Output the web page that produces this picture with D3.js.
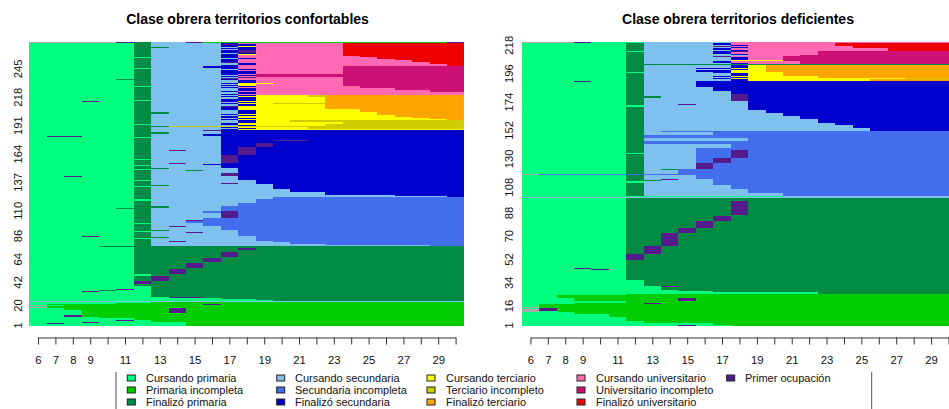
<!DOCTYPE html>
<html>
<head>
<meta charset="utf-8">
<script src="https://cdn.jsdelivr.net/npm/d3@7"></script>
<style>
  html, body { margin: 0; padding: 0; background: #fff; }
  svg { display: block; font-family: "Liberation Sans", Arial, Helvetica, sans-serif; }
</style>
</head>
<body>
<svg id="chart" width="949" height="409"></svg>
<script>
// ---- ages (one column per year) and the labels printed under the axis ----
const ages = d3.range(6, 31);
const ageLabels = [6, 7, 8, 9, 11, 13, 15, 17, 19, 21, 23, 25, 27, 29];

// ---- state alphabet ----
const stateCodes = ["a", "b", "c", "d", "e", "f", "g", "h", "i", "j", "k", "l", "m", "-"];
const stateNames = [
  "Cursando primaria", "Primaria incompleta", "Finalizó primaria",
  "Cursando secundaria", "Secundaria incompleta", "Finalizó secundaria",
  "Cursando terciario", "Terciario incompleto", "Finalizó terciario",
  "Cursando universitario", "Universitario incompleto", "Finalizó universitario",
  "Primer ocupación", "Sin dato"
];
const stateColors = [
  "#00FF7F", "#00CD00", "#008B45",
  "#7EC0EE", "#436EEE", "#0000CD",
  "#FFFF00", "#CDCD00", "#FFA500",
  "#FF69B4", "#CD1076", "#EE0000",
  "#551A8B", "#AAAAAA"
];

const panelTitles = ["Clase obrera territorios confortables", "Clase obrera territorios deficientes"];
const confortablesTicks = [1, 20, 42, 64, 86, 110, 137, 164, 191, 218, 245];
const deficientesTicks = [1, 16, 34, 52, 70, 88, 108, 130, 152, 174, 196, 218];

// ---- sequences: [number of identical trajectories, spells "state+years"], bottom to top ----
const confortables = [
  // primaria incompleta
  [2, "a9 b16"], [1, "a1 m1 a7 b16"], [1, "a3 m1 a5 b16"], [1, "a7 b18"], [1, "a5 m1 a1 b18"],
  [2, "a6 b19"], [1, "a4 b21"], [1, "a2 m1 b22"], [2, "a3 b22"], [3, "a3 b5 m1 b16"],
  [2, "a2 b6 m1 b16"], [1, "-1 b24"], [1, "a1 b24"], [1, "-1 a1 b23"], [1, "a1 b9 m1 b14"],
  [1, "a5 b20"], [1, "a7 b18"],
  [1, "d25"],
  // finalizó primaria
  [1, "a14 c11"], [1, "a13 c12"], [1, "a11 c14"], [1, "a8 m2 c15"], [4, "a7 c18"],
  [1, "a3 m1 a3 c18"], [1, "a4 c1 a2 c18"], [1, "a5 m1 a1 c18"], [3, "a7 c18"], [2, "a6 c19"],
  [3, "a6 m1 c18"], [5, "a6 c1 m1 c17"], [1, "a7 c18"], [5, "a6 c2 m1 c16"], [1, "a6 c19"],
  [5, "a6 c3 m1 c15"], [1, "a6 c19"], [4, "a6 c4 m1 c14"], [1, "a6 c19"], [4, "a6 c5 m1 c13"],
  [2, "a6 c19"], [2, "a6 c6 m1 c12"], [1, "a6 c19"], [1, "a4 c21"],
  // secundaria incompleta
  [1, "a6 c1 d16 e2"], [1, "a6 c1 d10 e8"], [2, "a6 c1 d8 e10"], [1, "a6 c1 d1 m1 d5 e11"],
  [2, "a6 c1 d6 e12"], [1, "a7 d6 e12"], [1, "a6 c2 d5 e12"], [1, "a3 m1 a2 c1 d6 e12"],
  [2, "a6 c1 d5 e13"], [1, "a6 c1 d2 m1 d2 e13"], [1, "a7 d5 e13"], [1, "a6 c2 d4 e13"],
  [3, "a6 c1 d4 e14"], [1, "a6 c1 d1 m1 d2 e14"], [2, "a6 c1 d3 e15"], [1, "a7 d3 e15"],
  [2, "a6 c1 d2 e16"], [1, "a6 c1 d2 m1 e15"], [2, "a6 c1 d3 e15"], [4, "a6 c1 d4 m1 e13"],
  [2, "a6 c1 d3 e1 m1 e13"], [2, "a6 c1 d4 e14"], [1, "a5 c2 d4 e14"], [2, "a6 c2 d3 e14"],
  [3, "a6 c1 d5 e13"], [2, "a6 c1 d6 e12"], [2, "a7 d6 e12"], [2, "a6 c1 d7 e11"],
  // finalizó secundaria
  [1, "a6 c1 d17 f1"], [1, "a6 c1 d14 f4"], [2, "a6 c1 d10 f8"], [3, "a6 c1 d8 f10"],
  [2, "a6 c1 d7 f11"], [1, "a7 d7 f11"], [1, "a6 c2 d6 f11"], [1, "a6 c1 d7 f11"],
  [1, "a6 c1 d4 m1 d1 f12"], [2, "a6 c1 d6 f12"], [1, "a7 d6 f12"],
  [3, "a6 c1 d5 f13"], [1, "a2 m1 a3 c1 d5 f13"], [2, "a6 c1 d4 m1 f13"],
  [2, "a6 c1 d5 f13"], [1, "a6 c1 d2 c1 d2 f13"], [1, "a7 d5 f13"], [1, "a6 c2 d4 f13"],
  [2, "a6 c1 d4 f14"], [1, "a7 d4 f14"], [1, "a6 c1 d3 f15"], [1, "a6 c1 d1 m1 d2 f14"],
  [3, "a6 c1 d4 m1 f13"], [1, "a7 d4 m1 f13"], [4, "a6 c1 d4 m1 f13"],
  [3, "a6 c1 d4 f1 m1 f12"], [1, "a6 c1 d1 m1 d2 f1 m1 f12"], [3, "a6 c1 d4 f1 m1 f12"],
  [4, "a6 c1 d4 f2 m1 f11"], [2, "a6 c1 d4 f14"], [1, "a6 c1 d4 f3 m2 f9"],
  [2, "a6 c1 d4 f14"], [1, "a7 d4 f14"], [1, "a1 m2 a3 c1 d4 f14"],
  [2, "a6 c1 d3 f15"], [1, "a6 c2 d3 f14"], [1, "a6 c1 d4 f14"], [1, "a6 c1 d3 m1 f14"],
  // terciario
  [1, "a6 c1 d4 f1 g13"], [1, "a6 c1 d5 f1 g3 h9"], [1, "a6 c1 d4 f1 g4 h9"], [1, "a6 c2 h17"],
  [1, "a6 c1 d5 f1 g4 h8"], [1, "a7 d4 f1 g5 h8"], [1, "a6 c1 d4 f1 g6 h7"], [1, "a6 c1 d5 f1 g5 h7"],
  [2, "a6 c1 d5 f1 g2 h10"],
  [1, "a6 c1 d4 f1 g12 i1"], [1, "a6 c1 d5 f1 g10 i2"], [1, "a6 c1 d4 f1 g10 i3"],
  [1, "a6 c1 d4 f1 g9 i4"], [1, "a6 c1 d5 f1 g8 i4"], [1, "a6 c1 d4 f1 g8 i5"], [1, "a6 c2 d4 f1 g7 i5"],
  [2, "a6 c1 d5 f1 g6 i6"], [1, "a6 c1 d4 f1 g7 i6"],
  [2, "a6 c1 d4 f1 g5 i8"], [1, "a6 c1 d4 m1 g5 i8"], [2, "a6 c1 d5 f1 g4 i8"], [1, "a6 c1 d4 f1 g2 h3 i8"],
  [1, "a6 c1 d5 f1 g4 i8"], [1, "a3 m1 a2 c1 d4 f1 g5 i8"], [1, "a7 d4 f2 g4 i8"],
  [1, "a6 c1 d4 f2 g4 i8"], [2, "a6 c1 d5 f1 g4 i8"], [1, "a6 c1 d4 f1 g4 h1 i8"], [1, "a6 c1 d5 f1 g3 h1 i8"],
  // universitario incompleto
  [1, "a6 c1 d4 f1 j13"], [1, "a6 c1 d5 f1 j12"], [1, "a6 c1 d4 f1 j11 k2"], [1, "a6 c1 d5 f1 j10 k2"],
  [2, "a6 c1 d5 f1 j8 k4"], [1, "a6 c1 d4 f1 j7 k6"], [1, "a7 d5 f1 j6 k6"],
  [1, "a6 c1 d4 f1 g1 j5 k7"], [1, "a6 c1 d5 g1 j5 k7"], [1, "a6 c1 d4 f1 g2 j4 k7"],
  [3, "a6 c1 d5 f1 j5 k7"], [1, "a5 c2 d4 f1 j6 k7"], [1, "a6 c1 d4 m1 j6 k7"], [1, "a6 c1 d5 m1 j5 k7"],
  [1, "a6 c1 d4 f1 j1 k12"], [1, "a6 c1 d5 f1 k12"], [1, "a6 c1 d4 f1 j1 k12"],
  [2, "a6 c1 d4 f2 j5 k7"], [1, "a6 c1 d4 f1 j6 k7"], [1, "a6 c1 d5 f1 j5 k7"], [1, "a7 d4 f1 j6 k7"],
  [2, "a6 c1 d3 f2 j6 k7"],
  // finalizó universitario
  [1, "a6 c1 d4 f1 j12 l1"], [1, "a6 c1 d5 f1 j11 l1"], [1, "a6 c1 d5 f1 j10 l2"], [1, "a6 c1 d4 m1 j11 l2"],
  [2, "a6 c1 d4 f1 j10 l3"], [1, "a6 c1 d4 f1 j9 l4"], [1, "a6 c1 d5 f1 j7 l5"], [1, "a7 d4 f1 j8 l5"],
  [1, "a6 c1 d4 f1 j7 l6"], [1, "a6 c1 d4 f1 j6 l7"], [1, "a6 c1 d4 f1 g1 j5 l7"], [1, "a6 c1 d5 f1 j5 l7"],
  [2, "a6 c1 d4 f1 m1 j5 l7"], [1, "a6 c1 d5 f1 j5 l7"], [1, "a6 c1 d4 f2 j5 l7"], [1, "a6 c2 d4 f1 j5 l7"],
  [1, "a6 c1 d4 f1 g1 j5 l7"], [1, "a6 c1 d4 f2 j5 l7"], [1, "a6 c1 d4 m1 f1 j5 l7"], [1, "a6 c1 d4 f1 j6 l7"],
  [1, "-5 m1 c1 d2 m1 b14 m1"]
];

const deficientes = [
  // primaria incompleta
  [1, "a9 m1 a2 b13"], [1, "a11 b14"], [2, "a7 b18"], [3, "a6 b19"], [2, "a5 b20"],
  [2, "a3 b22"], [1, "-1 a1 b23"], [1, "-1 m1 b23"], [1, "a1 m1 b23"], [1, "-1 b24"],
  [2, "a1 b24"], [1, "a3 b4 m1 b17"], [1, "a6 b19"], [3, "a3 b6 m1 b15"], [2, "a2 b23"],
  [1, "a6 b19"],
  // finalizó primaria
  [1, "a17 c8"], [1, "a11 c14"], [1, "a9 c16"], [2, "a8 c17"], [1, "a8 m1 c16"],
  [5, "a7 c18"], [7, "a6 c19"], [1, "a4 m1 a1 c19"], [1, "a3 m1 a2 c19"], [6, "a6 c19"],
  [5, "a6 m1 c18"], [6, "a6 c1 m1 c17"], [10, "a6 c2 m1 c16"], [4, "a6 c3 m1 c15"],
  [5, "a6 c4 m1 c14"], [4, "a6 c5 m1 c13"], [1, "a6 c19"], [11, "a6 c6 m1 c12"], [2, "a6 c19"],
  // secundaria incompleta
  [1, "d25"], [1, "a15 d10"], [2, "a6 c1 d8 e10"], [3, "a6 c1 d6 e12"], [3, "a6 c1 d5 e13"],
  [2, "a6 c1 d4 e14"], [1, "a7 d4 e14"], [1, "a6 c2 d3 e14"], [1, "a6 c1 d1 m1 d2 e14"],
  [3, "a6 c1 d3 e15"], [1, "-1 e24"], [3, "a6 c1 d2 e16"], [1, "a6 c1 d1 c1 e16"],
  [4, "a6 c1 d3 m1 e14"], [4, "a6 c1 d3 e1 m1 e13"], [3, "a6 c1 d3 e2 m1 e12"],
  [1, "a7 d3 e2 m1 e12"], [2, "a6 c1 d3 e2 m1 e12"],
  [2, "a6 c1 d3 e15"], [3, "a6 c1 d5 e13"], [2, "a6 c1 e18"], [3, "a6 c1 d6 e12"],
  [2, "a6 c1 e18"], [2, "a6 c1 d4 e14"], [1, "a6 c1 d1 e17"],
  // finalizó secundaria
  [2, "a6 c1 d13 f5"], [3, "a6 c1 d12 f6"], [1, "a6 c1 d11 f7"], [3, "a6 c1 d10 f8"],
  [3, "a6 c1 d9 f9"], [2, "a6 c1 d8 f10"], [2, "a6 c1 d7 f11"],
  [3, "a6 c1 d6 f12"], [1, "a7 d6 f12"], [1, "a6 c1 d2 m1 d3 f12"], [2, "a6 c1 d6 f12"],
  [3, "a6 c1 d5 m1 f12"], [1, "a6 c2 d4 m1 f12"], [2, "a6 c1 d5 m1 f12"],
  [2, "a6 c1 d5 f13"], [3, "a6 c1 d4 f14"], [4, "a6 c1 d3 f15"], [1, "a3 m1 a2 c1 d3 f15"],
  // terciario
  [1, "a6 c1 d5 f1 g7 i5"], [1, "a6 c1 d4 f1 g10 h3"], [1, "a6 c1 d5 f1 g4 i8"], [1, "a6 c1 d4 f1 g5 i8"],
  [2, "a6 c1 d5 f1 g2 i10"], [1, "a7 d4 f1 g3 i10"], [1, "a6 c1 d3 f2 g2 i11"], [1, "a6 c1 d5 f1 g1 i11"],
  [1, "a6 c1 d3 f2 g2 i11"], [2, "a6 c1 d5 f1 g1 i11"], [1, "a6 c19"],
  // universitario
  [1, "a6 c1 d5 f1 j3 k9"], [1, "a6 c1 d4 f1 j4 k9"], [1, "a6 c1 d5 g3 k10"], [2, "a6 c1 d5 f1 j2 k10"],
  [1, "a6 c1 d4 m1 j3 k10"], [1, "a6 c1 d6 j3 k9"], [1, "a6 c1 d5 f1 j4 k8"], [1, "a6 c1 d4 f1 j5 k8"],
  [1, "a7 d4 f1 m1 j4 k8"], [1, "a6 c1 d5 f1 j8 l4"], [1, "a6 c1 d4 f1 j9 l4"], [1, "a6 c1 d5 f1 j6 l6"],
  [1, "a6 c1 d4 m1 j7 l6"], [1, "a6 c1 d5 f1 j5 l7"], [1, "a6 c1 d4 f1 j6 l7"], [1, "-3 m1 a3 d5 j13"]
];

// ---- drawing ----
const svg = d3.select("#chart");
const color = d3.scaleOrdinal(stateCodes, stateColors);
const plotTop = 42, plotBottom = 326;

function parseSpells(str) {
  const spells = [];
  let start = 0;
  str.trim().split(/\s+/).forEach(tok => {
    const s = tok[0], len = +tok.slice(1);
    spells.push({ state: s, start, len });
    start += len;
  });
  // keep every trajectory exactly as long as the age range
  const total = ages.length;
  if (start < total) spells[spells.length - 1].len += total - start;
  return spells.filter(sp => sp.start < total).map(sp => ({ ...sp, len: Math.min(sp.len, total - sp.start) }));
}

function drawPanel(groups, ticks, title, x0, colW, labelX, titleX) {
  const g = svg.append("g");
  const n = d3.sum(groups, d => d[0]);

  const xBand = d3.scaleBand().domain(ages).range([x0, x0 + colW * ages.length]).paddingInner(0).paddingOuter(0);
  const y = d3.scaleLinear().domain([0, n]).range([plotBottom, plotTop]);

  // stack groups bottom to top
  let row = 0;
  const blocks = [];
  groups.forEach(([count, spells]) => {
    parseSpells(spells).forEach(sp => blocks.push({ r0: row, r1: row + count, ...sp }));
    row += count;
  });

  g.append("g").attr("shape-rendering", "crispEdges")
    .selectAll("rect").data(blocks).join("rect")
    .attr("x", d => xBand(ages[d.start]))
    .attr("width", d => xBand.bandwidth() * d.len)
    .attr("y", d => y(d.r1))
    .attr("height", d => y(d.r0) - y(d.r1))
    .attr("fill", d => color(d.state));

  // title
  g.append("text")
    .attr("x", titleX).attr("y", 23.5)
    .attr("text-anchor", "middle")
    .attr("font-size", 14).attr("font-weight", "bold").attr("fill", "#000")
    .text(title);

  // x axis: ticks at column centres
  const xPoint = d3.scalePoint().domain(ages)
    .range([x0 + colW / 2, x0 + colW * (ages.length - 0.5)]);
  const axis = d3.axisBottom(xPoint)
    .tickSizeInner(7).tickSizeOuter(0).tickPadding(11)
    .tickFormat(a => ageLabels.includes(a) ? a : "");
  const ax = g.append("g").attr("transform", "translate(0,337.5)").call(axis);
  ax.select(".domain").attr("stroke", "#333");
  ax.selectAll(".tick line").attr("stroke", "#333");
  ax.selectAll(".tick text").attr("font-size", 11.3).attr("fill", "#111")
    .attr("font-family", "Liberation Sans, Arial, sans-serif");

  // y labels (rotated), no axis line
  g.append("g").selectAll("text").data(ticks).join("text")
    .attr("transform", d => `translate(${labelX},${y(d - 0.5)}) rotate(-90)`)
    .attr("text-anchor", "middle")
    .attr("font-size", 11.3).attr("fill", "#111")
    .text(d => d);
}

drawPanel(confortables, confortablesTicks, panelTitles[0], 29.3, 17.4, 21.5, 247.5);
drawPanel(deficientes, deficientesTicks, panelTitles[1], 521.7, 17.42, 513.3, 738);

// ---- legend ----
const legendCols = [
  { sx: 127.3, tx: 146 }, { sx: 276.7, tx: 295 }, { sx: 427, tx: 446 },
  { sx: 577, tx: 596 }, { sx: 726.7, tx: 745 }
];
const legendRowY = [378, 390, 402];
const legendItems = stateNames.slice(0, 13).map((name, i) => ({
  name, code: stateCodes[i], col: Math.floor(i / 3), row: i % 3
}));
const lg = svg.append("g");
lg.selectAll("rect").data(legendItems).join("rect")
  .attr("x", d => legendCols[d.col].sx)
  .attr("y", d => legendRowY[d.row] - 3)
  .attr("width", 8).attr("height", 6)
  .attr("fill", d => color(d.code))
  .attr("stroke", "#222").attr("stroke-width", 1);
lg.selectAll("text").data(legendItems).join("text")
  .attr("x", d => legendCols[d.col].tx)
  .attr("y", d => legendRowY[d.row] + 4)
  .attr("font-size", 11).attr("fill", "#111")
  .text(d => d.name);
lg.selectAll("line").data([116, 871.7]).join("line")
  .attr("x1", d => d).attr("x2", d => d)
  .attr("y1", 372).attr("y2", 410)
  .attr("stroke", "#555").attr("stroke-width", 1);
</script>
</body>
</html>
